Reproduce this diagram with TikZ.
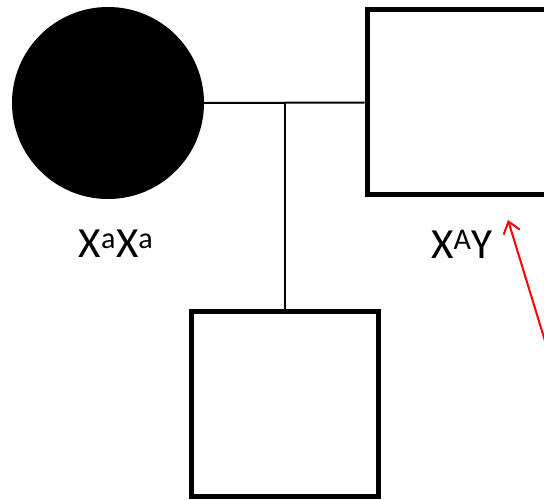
\documentclass[tikz,border=0pt]{standalone}
\usepackage{fontspec}
\setmainfont{Carlito}
\usetikzlibrary{arrows.meta}
\tikzset{
  pedbase/.style={x=1pt,y=1pt,line cap=butt},
  pedline/.style={draw=black,line width=2pt},
  affected/.style={circle,fill=black,draw=none,minimum size=192pt,inner sep=0pt},
  malebox/.style={rectangle,draw=black,fill=white,line width=5pt,minimum width=187pt,minimum height=185pt,inner sep=0pt},
  genolabel/.style={font=\fontsize{43}{50}\selectfont,inner sep=0pt},
  pointer/.style={draw=red,line width=2pt,-{Straight Barb[length=11pt,width=17pt,line width=2pt]}}
}
\begin{document}
\begin{tikzpicture}[pedbase]
\useasboundingbox (0,0) rectangle (544,499);
\clip (0,0) rectangle (544,499);
% parents
\node[affected] (mother) at (108,396) {};
\node[malebox] (father) at (460.5,396.5) {};
\node[genolabel] (mlabel) at (116,255) {X\textsuperscript{a}X\textsuperscript{a}};
\node[genolabel] (flabel) at (462,255) {X\textsuperscript{A}Y};
% child
\node[malebox] (son) at (285,95.5) {};
\draw[pedline] (mother.east) -- (father.west);
\draw[pedline] (mother.east -| son.north) -- (son.north);
% pointer
\coordinate (tail) at (560,109);
\coordinate (tip) at (508,279);
\draw[pointer] (tail) -- (tip);
\end{tikzpicture}
\end{document}
